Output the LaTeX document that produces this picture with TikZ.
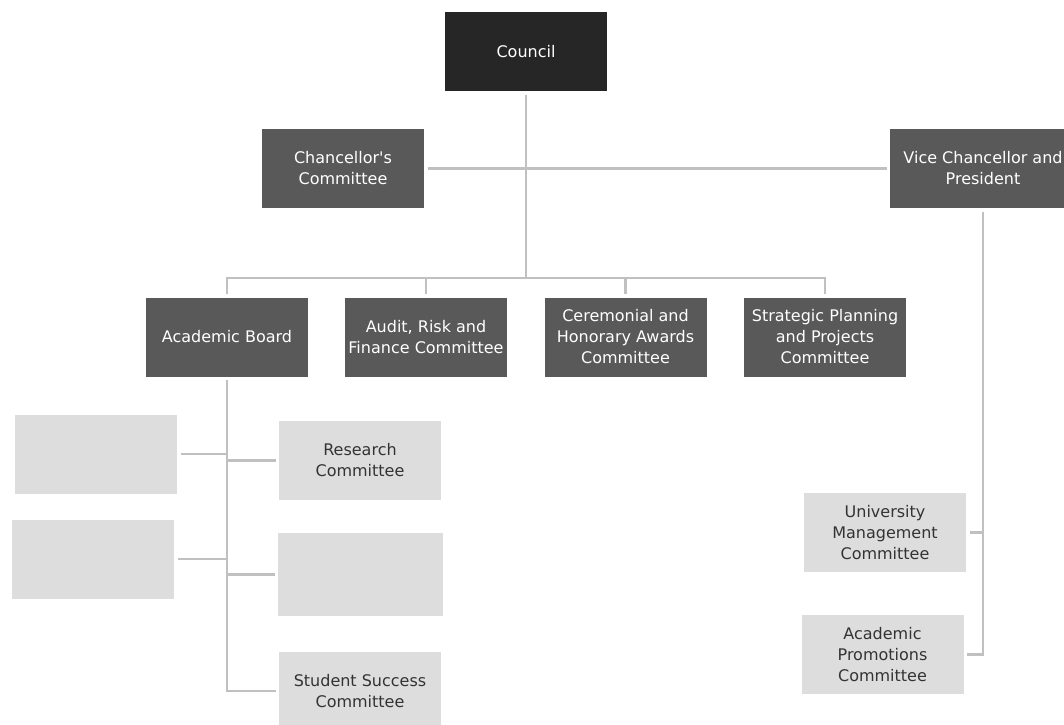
\documentclass[tikz,border=0pt]{standalone}
\usepackage{fontspec}
\setmainfont{DejaVu Sans}
\usetikzlibrary{positioning}
\definecolor{councilfill}{HTML}{262626}
\definecolor{unitfill}{HTML}{595959}
\definecolor{subfill}{HTML}{DDDDDD}
\definecolor{linkgray}{HTML}{C0C0C0}

\begin{document}
\begin{tikzpicture}[
 x=1pt, y=-1pt,
 unit/.style={rectangle, fill=unitfill, text=white, minimum width=162pt, minimum height=79pt, inner sep=0pt, outer sep=3.5pt, align=center, font=\fontsize{16}{21}\selectfont},
 top/.style={unit, fill=councilfill},
 sub/.style={unit, fill=subfill, text=black!80},
 link/.style={draw=linkgray, line width=2.6pt},
]
\useasboundingbox (0,0) rectangle (1064,724);

\node[top] (council) at (526,51.5) {Council};
\node[unit] (chancellor) at (343,168.5) {Chancellor\textquotesingle s\\Committee};
\node[unit, minimum width=186pt] (vc) at (983,168.5) {Vice Chancellor and\\President};

\node[unit] (acboard) at (227,337) {Academic Board};
\node[unit] (audit) at (426,337) {Audit, Risk and\\Finance Committee};
\node[unit] (ceremonial) at (625.5,337) {Ceremonial and\\Honorary Awards\\Committee};
\node[unit] (strategic) at (825,337) {Strategic Planning\\and Projects\\Committee};

\node[sub] (blankA) at (96,454) {};
\node[sub] (blankB) at (93,559) {};
\node[sub] (research) at (360,460.5) {Research\\Committee};
\node[sub, minimum width=165pt, minimum height=83pt] (blankC) at (360.5,574.5) {};
\node[sub] (success) at (360,691) {Student Success\\Committee};

\node[sub] (umc) at (885,532.5) {University\\Management\\Committee};
\node[sub] (apc) at (882.5,654.5) {Academic\\Promotions\\Committee};

\coordinate (bar) at (527,278);

% Council and its committees
\draw[link] (council.south) -- (council.south |- bar);
\draw[link] (chancellor) -- (vc);
\draw[link] (acboard.north) -- (acboard.north |- bar) -- (strategic.north |- bar) -- (strategic.north);
\draw[link] (audit.north |- bar) -- (audit.north);
\draw[link] (ceremonial.north |- bar) -- (ceremonial.north);

% Academic Board
\draw[link] (acboard.south) -- (acboard.south |- success.west) -- (success.west);
\draw[link] (blankA.east) -- (blankA.east -| acboard.south);
\draw[link] (blankB.east) -- (blankB.east -| acboard.south);
\draw[link] (acboard.south |- research.west) -- (research.west);
\draw[link] (acboard.south |- blankC.west) -- (blankC.west);

% Vice Chancellor
\draw[link] (vc.south) -- (vc.south |- apc.east) -- (apc.east);
\draw[link] (umc.east) -- (umc.east -| vc.south);

\end{tikzpicture}
\end{document}
